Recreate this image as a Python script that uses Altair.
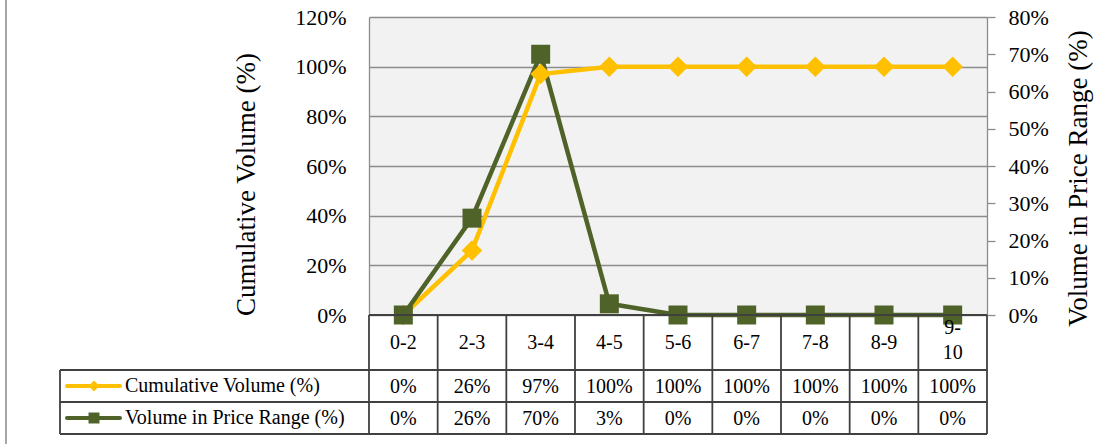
import altair as alt
import pandas as pd

# ---------------- data ----------------
categories = ["0-2", "2-3", "3-4", "4-5", "5-6", "6-7", "7-8", "8-9", "9-10"]
cumulative_pct = [0, 26, 97, 100, 100, 100, 100, 100, 100]
range_pct = [0, 26, 70, 3, 0, 0, 0, 0, 0]
series_names = ["Cumulative Volume (%)", "Volume in Price Range (%)"]
series_colors = ["#FFC000", "#4F6228"]
series_shapes = ["diamond", "square"]
left_ticks = [0, 0.2, 0.4, 0.6, 0.8, 1.0, 1.2]
right_ticks = [0, 0.1, 0.2, 0.3, 0.4, 0.5, 0.6, 0.7, 0.8]

# ---------------- layout ----------------
FONT = "Liberation Serif"
W, H = 618, 298            # plot area
N = len(categories)
CELL = W / N               # width of a category column in px
HEADER_H, ROW_H = 55, 32   # data-table rows
TABLE_H = HEADER_H + 2 * ROW_H
LINE_H = 25
LEG_LEFT = -309 / CELL     # left edge of legend column (x units)
LEG_LINE0 = -302 / CELL
LEG_LINE1 = -249 / CELL
LEG_MARK = -275 / CELL
LEG_TEXT = -244 / CELL
GRID = "#8C8C8C"
TBL = "#404040"

labels = [c if len(c) <= 3 else c.replace("-", "-\n") for c in categories]
df = pd.DataFrame({
    "cat": categories,
    "x": [i + 0.5 for i in range(N)],
    "cum": [v / 100 for v in cumulative_pct],
    "rng": [v / 100 for v in range_pct],
    "label": labels,
    "hy": [HEADER_H / 2 + 0.5 - (lab.count("\n") * (LINE_H / 2 + 2.5)) for lab in labels],
    "cum_txt": [f"{v}%" for v in cumulative_pct],
    "rng_txt": [f"{v}%" for v in range_pct],
})

xs = alt.Scale(domain=[0, N], nice=False, zero=False)
X = alt.X("x:Q", scale=xs, axis=None)
left_scale = alt.Scale(domain=[0, 1.2], nice=False, zero=False)
right_scale = alt.Scale(domain=[0, 0.8], nice=False, zero=False)
tbl_scale = alt.Scale(domain=[0, TABLE_H], range=[H, H + TABLE_H], nice=False, zero=False)

left_axis = alt.Axis(
    orient="left", values=left_ticks, format="%", grid=True, gridColor=GRID,
    gridWidth=1.3, ticks=False, tickSize=0, domainColor=GRID, domainWidth=1.3,
    labelFont=FONT, labelFontSize=22, labelColor="black", labelPadding=23,
    labelOverlap=False,
    title="Cumulative Volume (%)", titleFont=FONT, titleFontSize=27,
    titleFontWeight="normal", titleColor="black", titleAngle=270,
    titleX=-123, titleY=167, titleBaseline="middle", titleAlign="center",
)
right_axis = alt.Axis(
    orient="right", values=right_ticks, format="%", grid=False,
    ticks=True, tickSize=8, tickColor=GRID, tickWidth=1.3,
    domainColor=GRID, domainWidth=1.3,
    labelFont=FONT, labelFontSize=22, labelColor="black", labelPadding=13,
    labelOverlap=False,
    title="Volume in Price Range (%)", titleFont=FONT, titleFontSize=27,
    titleFontWeight="normal", titleColor="black", titleAngle=270,
    titleX=91, titleY=161, titleBaseline="middle", titleAlign="center",
)

base = alt.Chart(df)

yellow_line = base.mark_line(color=series_colors[0], strokeWidth=4.5).encode(
    x=X, y=alt.Y("cum:Q", scale=left_scale, axis=left_axis))
yellow_pts = base.mark_point(shape="diamond", filled=True, size=420, opacity=1,
                             color=series_colors[0]).encode(
    x=X, y=alt.Y("cum:Q", scale=left_scale, axis=None))
green_line = base.mark_line(color=series_colors[1], strokeWidth=4.5).encode(
    x=X, y=alt.Y("rng:Q", scale=right_scale, axis=right_axis))
green_pts = base.mark_point(shape="square", filled=True, size=361, opacity=1,
                            color=series_colors[1]).encode(
    x=X, y=alt.Y("rng:Q", scale=right_scale, axis=None))

# ---------------- data table ----------------
rows_y = [0, HEADER_H, HEADER_H + ROW_H, TABLE_H]
segs = []
for k in range(N + 1):
    segs.append({"x": k, "x2": k, "y": 0, "y2": TABLE_H})
for j, yy in enumerate(rows_y):
    segs.append({"x": 0 if j == 0 else LEG_LEFT, "x2": N, "y": yy, "y2": yy})
segs.append({"x": LEG_LEFT, "x2": LEG_LEFT, "y": HEADER_H, "y2": TABLE_H})
seg_df = pd.DataFrame(segs)

table_lines = alt.Chart(seg_df).mark_rule(color=TBL, strokeWidth=1.8).encode(
    x=alt.X("x:Q", scale=xs, axis=None), x2="x2:Q",
    y=alt.Y("y:Q", scale=tbl_scale, axis=None), y2="y2:Q")

txt_kw = dict(font=FONT, fontSize=20, color="black", baseline="middle", align="center")
header_txt = base.mark_text(lineBreak="\n", lineHeight=LINE_H, **txt_kw).encode(
    x=X, y=alt.Y("hy:Q", scale=tbl_scale, axis=None), text="label:N")
row1_txt = base.transform_calculate(ty=str(HEADER_H + ROW_H / 2 + 1)).mark_text(**txt_kw).encode(
    x=X, y=alt.Y("ty:Q", scale=tbl_scale, axis=None), text="cum_txt:N")
row2_txt = base.transform_calculate(ty=str(HEADER_H + ROW_H * 1.5 + 0.5)).mark_text(**txt_kw).encode(
    x=X, y=alt.Y("ty:Q", scale=tbl_scale, axis=None), text="rng_txt:N")

leg_df = pd.DataFrame({
    "name": series_names,
    "ty": [HEADER_H + ROW_H / 2, HEADER_H + ROW_H * 1.5],
    "x0": [LEG_LINE0] * 2, "x1": [LEG_LINE1] * 2,
    "xm": [LEG_MARK] * 2, "xt": [LEG_TEXT] * 2,
    "shape": series_shapes,
})
col = alt.Color("name:N", scale=alt.Scale(domain=series_names, range=series_colors), legend=None)
shp = alt.Shape("shape:N", scale=alt.Scale(domain=series_shapes, range=series_shapes), legend=None)
leg_base = alt.Chart(leg_df)
leg_lines = leg_base.mark_rule(strokeWidth=4, strokeCap="round").encode(
    x=alt.X("x0:Q", scale=xs, axis=None), x2="x1:Q",
    y=alt.Y("ty:Q", scale=tbl_scale, axis=None), color=col)
leg_marks = leg_base.mark_point(filled=True, opacity=1, size=120).encode(
    x=alt.X("xm:Q", scale=xs, axis=None),
    y=alt.Y("ty:Q", scale=tbl_scale, axis=None), color=col, shape=shp)
leg_text = leg_base.mark_text(font=FONT, fontSize=20, color="black",
                              baseline="middle", align="left").encode(
    x=alt.X("xt:Q", scale=xs, axis=None),
    y=alt.Y("ty:Q", scale=tbl_scale, axis=None), text="name:N")

frame = alt.Chart(df).mark_rule(color="#A6A6A6", strokeWidth=1.5).encode(
    x=alt.value(-363), y=alt.value(-17), y2=alt.value(427))

chart = alt.layer(
    yellow_line, green_line, yellow_pts, green_pts,
    table_lines, header_txt, row1_txt, row2_txt,
    leg_lines, leg_marks, leg_text, frame,
).resolve_scale(y="independent", color="independent", shape="independent").properties(
    width=W, height=H,
    autosize=alt.AutoSizeParams(type="none"),
    padding={"left": 369, "top": 17, "right": 124, "bottom": 129},
    background="white",
).configure_view(fill="#F2F2F2", stroke=None)

chart.save("out.html", embed_options={"renderer": "svg", "actions": False})
